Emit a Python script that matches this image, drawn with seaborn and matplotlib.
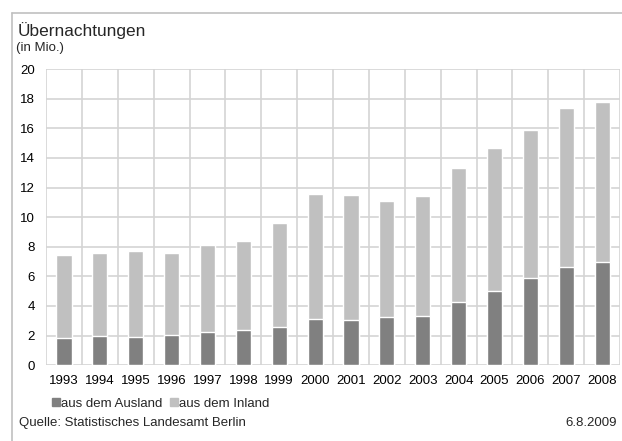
import numpy as np
import pandas as pd
import matplotlib
matplotlib.use('Agg')
import matplotlib.pyplot as plt
from matplotlib.lines import Line2D
from matplotlib.patches import Patch
import seaborn as sns

jahre = ['1993', '1994', '1995', '1996', '1997', '1998', '1999', '2000',
         '2001', '2002', '2003', '2004', '2005', '2006', '2007', '2008']
ausland = [1.82, 1.96, 1.89, 2.03, 2.23, 2.36, 2.57, 3.11,
           3.04, 3.24, 3.31, 4.26, 5.00, 5.88, 6.62, 6.96]
inland = [5.61, 5.61, 5.81, 5.54, 5.88, 6.02, 7.02, 8.44,
          8.45, 7.84, 8.11, 9.05, 9.66, 10.00, 10.74, 10.81]
yticks = [0, 2, 4, 6, 8, 10, 12, 14, 16, 18, 20]

col_aus = '#808080'
col_in = '#c0c0c0'
col_grid = '#d4d4d4'
fs = 9.5

sns.set_style('white')
plt.rcParams['font.family'] = ['Liberation Sans', 'DejaVu Sans']

df = pd.DataFrame({'jahr': jahre, 'ausland': ausland, 'inland': inland})
df['gesamt'] = df['ausland'] + df['inland']

fig = plt.figure(figsize=(6.22, 4.41), dpi=100)
ax = fig.add_axes([0.074, 0.172, 0.923, 0.6712])

# gestapelt: erst gesamt (hell), dann Ausland (dunkel) darueber
sns.barplot(data=df, x='jahr', y='gesamt', color=col_in, width=0.42,
            saturation=1, ax=ax, zorder=3)
sns.barplot(data=df, x='jahr', y='ausland', color=col_aus, width=0.42,
            saturation=1, ax=ax, zorder=4)

ax.set_xlim(-0.5, len(jahre) - 0.5)
ax.set_ylim(0, 20)
ax.set_yticks(yticks)
ax.set_yticklabels([str(t) for t in yticks])
ax.set_xticks(np.arange(-0.5, len(jahre)), minor=True)
ax.set_xlabel('')
ax.set_ylabel('')
for s in ax.spines.values():
    s.set_visible(False)
ax.grid(axis='y', which='major', color=col_grid, lw=1.2, zorder=0)
ax.grid(axis='x', which='minor', color=col_grid, lw=1.2, zorder=0)
ax.grid(axis='x', which='major', visible=False)
ax.set_axisbelow(True)
ax.tick_params(which='both', length=0)
ax.tick_params(axis='y', pad=8.0, labelsize=fs, colors='black')
ax.tick_params(axis='x', pad=7.2, labelsize=fs, colors='black')

# Rahmenlinien
fig.add_artist(Line2D([0.019, 1.0], [0.9705, 0.9705], color='#c0c0c0', lw=1.2,
                      transform=fig.transFigure))
fig.add_artist(Line2D([0.019, 0.019], [0.0, 0.9705], color='#c0c0c0', lw=1.2,
                      transform=fig.transFigure))

fig.text(0.029, 0.918, 'Übernachtungen', fontsize=12.4, va='baseline')
fig.text(0.026, 0.884, '(in Mio.)', fontsize=fs, va='baseline')

handles = [Patch(color=col_aus, label='aus dem Ausland'),
           Patch(color=col_in, label='aus dem Inland')]
fig.legend(handles=handles, loc='center left', bbox_to_anchor=(0.0836, 0.085),
           ncol=2, frameon=False, fontsize=fs, handlelength=0.6,
           handleheight=0.6, handletextpad=0.08, columnspacing=0.6,
           borderpad=0, borderaxespad=0)

fig.text(0.0305, 0.041, 'Quelle: Statistisches Landesamt Berlin', fontsize=fs,
         va='center')
fig.text(0.992, 0.041, '6.8.2009', fontsize=fs, va='center', ha='right')

fig.savefig('out.png', dpi=100)
